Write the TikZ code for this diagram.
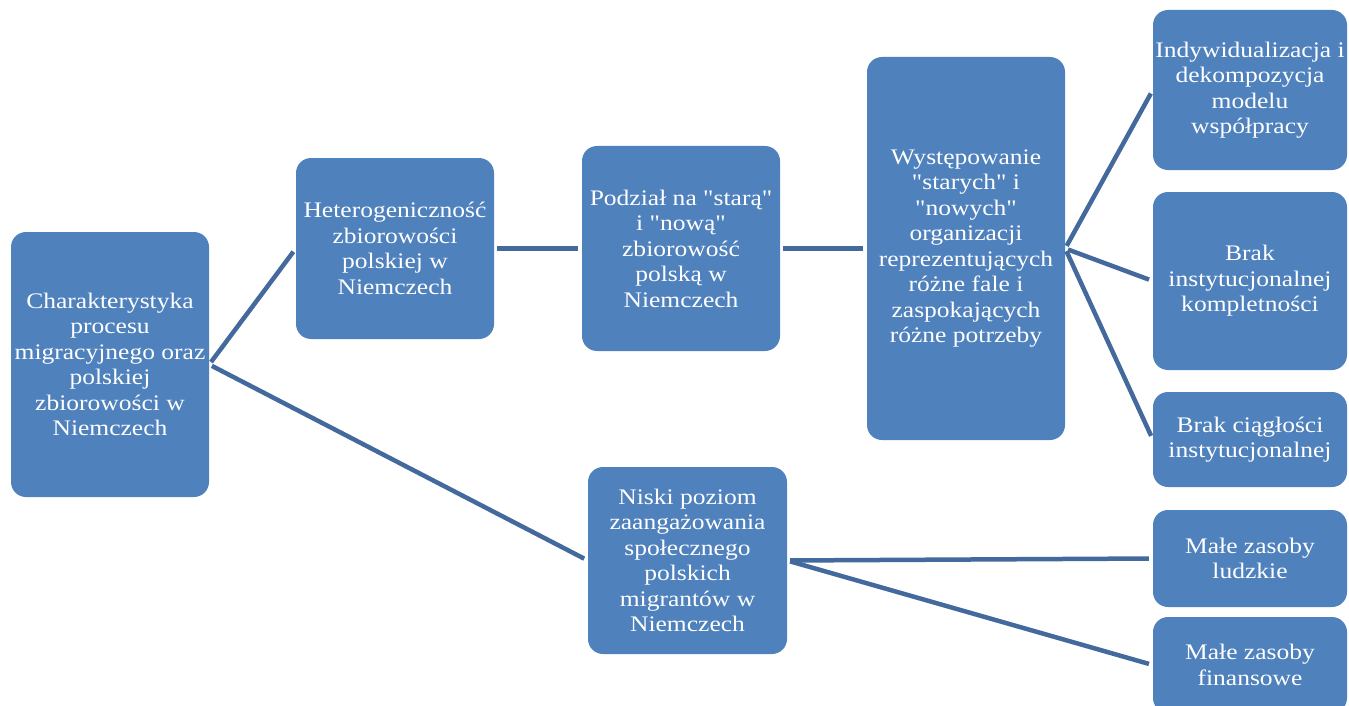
\documentclass[tikz,border=0pt]{standalone}
\usepackage{fontspec}
\setmainfont{Liberation Serif}[FakeStretch=1.15, Ligatures=TeXOff]
\begin{document}
\begin{tikzpicture}[x=1pt,y=-1pt,
  box/.style={text=white, align=center, inner sep=0pt,
    font=\fontsize{22.2}{25.5}\selectfont},
  link/.style={draw=linkblue, line width=4.5pt, shorten <=3pt, shorten >=4pt}]
\definecolor{boxblue}{HTML}{4F81BD}
\definecolor{linkblue}{HTML}{43699D}
\useasboundingbox (0,0) rectangle (1349,706);
\clip (0,0) rectangle (1349,706);

% boxes: corners in page pixels, label at the centre
\newcommand{\blk}[6]{%
  \fill[boxblue, rounded corners=15pt] (#2,#3) rectangle (#4,#5);
  \node[box, minimum width=#4-#2, minimum height=#5-#3] (#1)
    at ({(#2+#4)/2},{(#3+#5)/2}) {#6};}

\blk{root}{11}{232}{209}{497}{Charakterystyka\\procesu\\migracyjnego oraz\\polskiej\\zbiorowości w\\Niemczech}
\blk{het}{296}{158}{494}{339}{Heterogeniczność\\zbiorowości\\polskiej w\\Niemczech}
\blk{pod}{582}{146}{780}{351}{Podział na "starą"\\i "nową"\\zbiorowość\\polską w\\Niemczech}
\blk{wys}{867}{57}{1065}{440}{Występowanie\\"starych" i\\"nowych"\\organizacji\\reprezentujących\\różne fale i\\zaspokających\\różne potrzeby}
\blk{ind}{1153}{10}{1347}{170}{Indywidualizacja i\\dekompozycja\\modelu\\współpracy}
\blk{kom}{1153}{192}{1347}{370}{Brak\\instytucjonalnej\\kompletności}
\blk{cia}{1153}{392}{1347}{487}{Brak ciągłości\\instytucjonalnej}
\blk{nis}{588}{467}{787}{654}{Niski poziom\\zaangażowania\\społecznego\\polskich\\migrantów w\\Niemczech}
\blk{lud}{1153}{510}{1347}{607}{Małe zasoby\\ludzkie}
\blk{fin}{1153}{617}{1347}{713}{Małe zasoby\\finansowe}

% connectors
\draw[link] (root.east) -- (het.west);
\draw[link] (root.east) -- (nis.west);
\draw[link] (het.east) -- (pod.west);
\draw[link] (pod.east) -- (wys.west);
\draw[link] (wys.east) -- (ind.west);
\draw[link] (wys.east) -- (kom.west);
\draw[link] (wys.east) -- (cia.west);
\draw[link] (nis.east) -- (lud.west);
\draw[link] (nis.east) -- (fin.west);
\end{tikzpicture}
\end{document}
